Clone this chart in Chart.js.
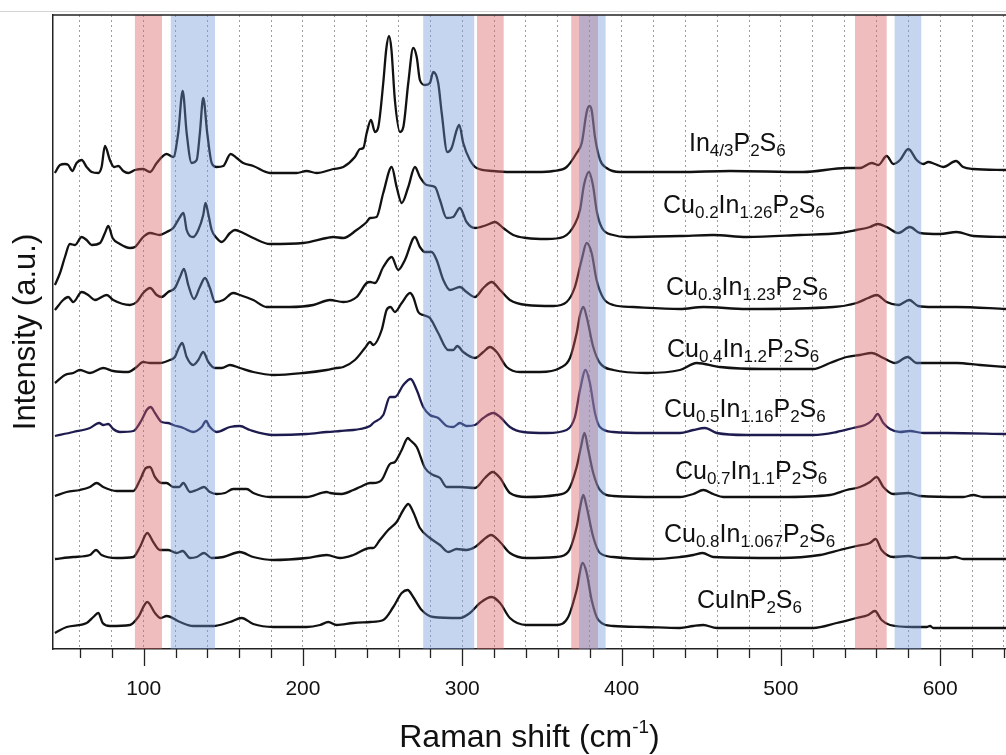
<!DOCTYPE html>
<html>
<head>
<meta charset="utf-8">
<title>Raman spectra of Cu(x)In(y)P2S6</title>
<script src="https://cdn.jsdelivr.net/npm/chart.js@4.4.1/dist/chart.umd.min.js"></script>
<style>
  html, body { margin: 0; padding: 0; background: #fff; }
  canvas { display: block; }
</style>
</head>
<body>
<canvas id="raman" width="1006" height="755"></canvas>
<script>
const FONT = "'Liberation Sans', Arial, Helvetica, sans-serif";

// --- spectra: [Raman shift (cm-1), stacked intensity (a.u.)] ---
const in43 = [[44.3,476],[47.5,484],[50.6,485],[52.7,484],[55.2,478],[57.9,486],[61.1,489],[64.2,482],[67.4,477],[71.5,476],[73.6,482],[75.7,503],[78.8,489],[81.4,482],[84.1,483],[87.2,478],[90.3,476],[94.5,479],[99.7,480],[104,477],[108.2,486],[114.4,495],[118.6,492],[121.7,516],[124.5,558],[127,516],[130.1,486],[133.3,489],[135.3,516],[137.4,551],[139.9,516],[142.7,486],[145.8,482],[150,483],[154.6,495],[158.4,491],[162.5,486],[168.8,483],[179.3,476],[196,476],[202.3,478],[208.6,476],[219,480],[225.3,482],[232.6,492],[235.8,500],[237.9,501],[240,516],[242.7,529],[245.2,517],[247.3,522],[250.4,566],[252.3,600],[254,613],[255.5,600],[257.7,549],[260.9,517],[263,522],[266.1,566],[269.2,601],[271.4,592],[273.4,569],[276.6,564],[279.7,566],[281.8,577],[284.9,566],[287.1,536],[290.6,497],[293.3,501],[296.5,519],[298.1,524],[300.6,506],[304.8,489],[309,481],[319.4,478],[330,477],[346.7,477],[357.1,478],[365.5,482],[371.8,496],[375,506],[378.1,537],[379.7,543],[381.2,539],[383.3,512],[386.5,489],[390.6,481],[399,477],[436.7,477],[468.1,478],[514,477],[541.3,481],[549.7,481],[557,486],[561.2,484],[566.4,493],[570.6,485],[574.8,489],[580,500],[585.2,489],[589.4,485],[592.5,487],[596.7,485],[601.9,482],[610,488],[614.4,482],[620.7,480],[641.3,479]];

const cu02 = [[44.3,364],[47.5,376],[50.6,392],[53.7,405],[56.9,404],[61.1,412],[64.2,409],[67.4,404],[72.6,406],[75.7,416],[77.8,423],[80.5,411],[85.1,405],[91.4,401],[94.5,402],[99.7,412],[104,416],[110.2,414],[114.4,417],[118.6,421],[121.7,429],[125,436],[127,419],[131.1,412],[134.3,419],[137.4,434],[138.8,446],[140.7,434],[142.7,419],[145.8,411],[149,407],[154.2,416],[157.3,419],[162.5,416],[168.8,411],[179.3,405],[200.2,406],[214.9,411],[219,412],[225.3,411],[233.7,419],[240,427],[242.1,431],[246.2,432],[250.4,456],[255.7,482],[258.8,462],[262,446],[266.1,462],[270.3,482],[273.4,472],[277.6,464],[282.9,462],[286,449],[290.2,431],[294.3,432],[298.5,441],[302.7,427],[308,421],[315.3,424],[320.5,427],[325.7,421],[332,414],[340.4,411],[353,410],[363.4,412],[370.7,425],[373.9,439],[376.4,464],[379.5,477],[382,464],[384.5,437],[387.7,421],[394.8,414],[403.2,412],[436.6,413],[457.5,414],[478.5,412],[512,414],[537.1,416],[547.5,419],[555.9,422],[560.7,425],[566.4,422],[573.7,416],[581,422],[587.3,416],[599.8,415],[610.3,417],[620.8,413],[641.3,412]];

const cu03 = [[44.3,339],[49.5,349],[52.7,352],[55.8,347],[61.1,357],[65.2,354],[69.4,349],[76.8,354],[80.9,349],[91.4,344],[95.6,347],[99.7,356],[104,361],[108.2,354],[111.3,352],[115.4,357],[119.6,361],[122.8,372],[125.3,380],[128,364],[131.6,350],[135.3,362],[138.5,371],[141.6,361],[144.8,347],[150,349],[156.2,356],[160.4,354],[168.8,349],[177.2,342],[191.8,342],[206.5,344],[216.9,349],[225.3,347],[233.7,352],[240,366],[242.1,367],[245.2,366],[250.4,382],[255.7,392],[259.8,379],[264,389],[270.3,412],[273.4,402],[276.6,397],[280.8,397],[283.9,389],[288.1,369],[292.3,359],[298.5,362],[302.7,357],[308,352],[313.2,361],[318.4,367],[323.7,359],[329.9,349],[340.4,344],[357.1,343],[365.5,347],[370.7,362],[374.9,389],[378.1,406],[381.2,396],[384.3,369],[388.5,351],[394.8,344],[407.3,342],[436.6,340],[451.3,342],[478.5,340],[532.9,342],[547.5,346],[554.8,351],[560.1,354],[566.4,347],[573.7,344],[580.6,349],[586.2,343],[595.6,342],[610.3,342],[641.3,340]];

const cu04 = [[44.3,266],[50.6,274],[55.8,276],[60,279],[66.3,276],[74.6,281],[80.9,278],[90.3,277],[95.6,282],[99.7,287],[104,286],[110.2,286],[116.5,289],[119.6,292],[122.3,302],[124.2,306],[127,292],[131.1,284],[134.3,289],[137.4,297],[140.6,287],[144.8,281],[149,281],[154.2,284],[160.4,281],[168.8,277],[181.4,274],[200.2,276],[214.9,279],[221.1,281],[225.3,282],[232.6,289],[238.9,301],[242.1,307],[244.1,304],[249.4,319],[252.5,339],[255,342],[257.7,337],[262,346],[267.2,356],[269.2,352],[272.4,337],[275.5,334],[279.7,331],[284.9,316],[291.2,299],[294.3,299],[296.9,303],[300.6,297],[308,291],[313.2,297],[317.4,302],[321.6,297],[327.9,282],[336.2,277],[348.8,277],[361.3,281],[367.6,291],[371.8,316],[373.9,334],[376,342],[378.1,332],[382.2,302],[386.4,286],[394.8,279],[415.7,276],[436.6,279],[447.1,286],[461.8,282],[488.9,280],[520.3,280],[530.8,286],[541.3,292],[549.6,294],[557,296],[564.3,291],[571.6,286],[579.6,292],[585.2,286],[595.6,286],[610.3,286],[625,284],[641.3,282]];

const cu05 = [[44.3,213],[55.8,217],[66.3,221],[72.1,226],[74.6,224],[77.8,225],[80.9,220],[85.1,217],[93.5,218],[98.7,229],[101.9,239],[104.4,242],[107.1,236],[111.3,227],[115.4,226],[118.6,224],[124.9,221],[131.1,217],[136.4,222],[139.1,228],[141.6,222],[145.8,217],[154.2,222],[160.4,223],[166.7,219],[181.4,214],[202.3,215],[214.9,217],[223.2,218],[231.6,219],[235.8,220],[242.1,223],[244.1,226],[250.4,234],[254.6,252],[257.7,252],[263,264],[267.6,270],[271.4,259],[275.5,242],[279.7,234],[284.9,231],[290.2,223],[294.3,222],[298.5,226],[302.7,223],[308,224],[313.2,231],[319.4,236],[323.7,232],[329.9,222],[338.3,217],[353,216],[365.5,219],[370.7,232],[373.9,259],[377.4,279],[380.1,266],[383.3,236],[386.4,222],[394.8,217],[415.7,216],[436.6,216],[445,219],[452.3,221],[459.7,216],[478.5,214],[520.3,214],[535,217],[545.4,221],[552.8,224],[557.6,229],[560.7,235],[564.3,226],[568.5,220],[574.7,217],[581,218],[589.4,216],[604,216],[641.3,215]];

const cu07 = [[44.3,153],[51.7,157],[60,159],[66.3,162],[70.5,166],[74.6,162],[83,158],[93.5,158],[97.7,169],[101.4,181],[104,182],[107.1,172],[111.3,166],[114.4,166],[118.6,162],[122.3,162],[124.9,166],[129.1,157],[133.3,159],[137.9,162],[141.6,157],[145.8,155],[151,156],[156.2,160],[164.7,160],[168.8,156],[179.3,152],[202.3,152],[214.9,157],[217,156],[224.3,155],[231.6,159],[235.8,162],[242.1,166],[244.1,166],[249.4,169],[254.6,185],[257.7,187],[262,199],[265.9,211],[267.2,209],[271.4,202],[276.6,181],[281.8,174],[286,171],[290.2,162],[298.5,162],[308,161],[314.2,171],[319.1,177],[323.7,171],[329.9,156],[340.4,152],[359.2,154],[366.5,159],[371.8,182],[374.5,202],[376.7,216],[379.1,199],[382.2,176],[386.4,159],[394.8,153],[424.1,152],[436.6,152],[445,155],[451.3,159],[457.5,155],[463.8,152],[499.4,152],[530.8,154],[541.3,159],[549.6,162],[555.9,167],[560.1,172],[564.3,162],[570.5,155],[579.9,156],[587.3,153],[614.5,152],[620.7,154],[627,152],[641.3,152]];

const cu08 = [[44.3,90],[55.8,92],[66.3,94],[70.1,99],[73.6,94],[83,91],[93.5,92],[97.7,102],[102.3,116],[106,107],[110.2,99],[115.4,99],[120.7,96],[124.5,98],[129.1,91],[133.3,92],[137.9,96],[142.7,91],[150,92],[160.4,97],[168.8,92],[181.4,89],[202.3,91],[214.9,94],[223.2,91],[231.6,94],[242.1,101],[244.1,101],[248.3,109],[253.5,119],[258.8,127],[263,139],[266.1,145],[269.2,137],[273.4,121],[279.7,111],[286,104],[291.2,97],[296.5,100],[302.7,99],[308,102],[313.2,109],[318,114],[323.7,107],[329.9,96],[340.4,91],[359.2,92],[366.5,97],[371.8,122],[374.5,146],[376,154],[378.1,142],[382.2,112],[386.4,96],[394.8,92],[419.9,90],[436.6,92],[445,94],[450.9,96],[457.5,92],[499.4,91],[524.5,94],[537.1,99],[547.5,103],[555.9,106],[559.5,110],[563.2,99],[570.5,92],[579.9,93],[587.3,91],[604,91],[609.3,92],[614.5,90],[641.3,90]];

const cuin = [[44.3,16],[51.7,22],[64.2,26],[68.4,32],[71.5,36],[74.3,26],[78.8,23],[91.4,24],[96.6,32],[102.3,47],[107.1,36],[110.7,31],[114.4,33],[122.8,27],[131.1,23],[143.7,23],[154.2,27],[161.5,31],[168.8,25],[181.4,22],[202.3,22],[210.7,24],[215.9,27],[221.1,24],[231.6,26],[242.1,27],[250.4,29],[256.7,42],[262,56],[265.7,59],[269.2,52],[274.5,39],[281.8,32],[298.5,31],[304.8,36],[311.1,46],[318.4,52],[323.7,46],[329.9,31],[340.4,24],[359.2,24],[366.5,32],[371.8,59],[375.6,86],[378.1,76],[381.2,49],[385.4,29],[394.8,23],[413.6,22],[436.6,21],[445,23],[451.3,24],[459.7,21],[520.3,21],[535,26],[547.5,31],[554.8,34],[559,38],[563.2,29],[568.5,24],[583.1,22],[591.5,22],[593.6,23],[595.7,21],[641.3,21]];

// sample names (top to bottom), subscripts written as _{...}
const sampleNames = [
  'In_{4/3}P_{2}S_{6}',
  'Cu_{0.2}In_{1.26}P_{2}S_{6}',
  'Cu_{0.3}In_{1.23}P_{2}S_{6}',
  'Cu_{0.4}In_{1.2}P_{2}S_{6}',
  'Cu_{0.5}In_{1.16}P_{2}S_{6}',
  'Cu_{0.7}In_{1.1}P_{2}S_{6}',
  'Cu_{0.8}In_{1.067}P_{2}S_{6}',
  'CuInP_{2}S_{6}'
];
const labelLevels = [498, 436, 354, 292, 232, 170, 107, 41];                    // baselines, intensity units
const labelStarts = [442.3, 426, 427.9, 428.5, 426.6, 433.5, 426.6, 447.3];     // left edges, cm-1

// highlighted mode regions (cm-1)
const redBands = [[94.5, 111.5], [309.2, 326], [368.4, 385.2], [546.5, 566.4]];
const blueBands = [[117, 144.8], [275.5, 307.5], [373.3, 390], [571.4, 588.1]];

const tickLabels = [100, 200, 300, 400, 500, 600];

const spectra = [in43, cu02, cu03, cu04, cu05, cu07, cu08, cuin];
const lineColors = ['#111', '#111', '#111', '#111', '#1e1c4e', '#111', '#111', '#111'];

// --- drawing helpers ---
function drawFormula(ctx, text, left, baseline) {
  const parts = text.split(/_\{([^}]*)\}/);
  const big = `25px ${FONT}`, small = `17px ${FONT}`;
  let xPos = left;
  parts.forEach((p, i) => {
    ctx.font = i % 2 ? small : big;
    ctx.fillText(p, xPos, baseline + (i % 2 ? 5 : 0));
    xPos += ctx.measureText(p).width;
  });
}

const ramanDecor = {
  id: 'ramanDecor',
  afterDatasetsDraw(chart) {
    // translucent bands go over the traces
    const {ctx, chartArea: a, scales: {x}} = chart;
    ctx.save();
    ctx.beginPath();
    ctx.rect(a.left, a.top, a.right - a.left, a.bottom - a.top);
    ctx.clip();
    const paint = (list, color) => list.forEach(([lo, hi]) => {
      const x0 = x.getPixelForValue(lo), x1 = x.getPixelForValue(hi);
      ctx.fillStyle = color;
      ctx.fillRect(x0, a.top, x1 - x0, a.bottom - a.top);
    });
    paint(redBands, 'rgba(215, 90, 90, 0.4)');
    paint(blueBands, 'rgba(110, 150, 215, 0.4)');
    ctx.restore();
  },
  afterDraw(chart) {
    const {ctx, chartArea: a, scales: {x, y}} = chart;
    ctx.save();

    // outer frame line and top border
    ctx.strokeStyle = '#d4d4d4';
    ctx.lineWidth = 1;
    ctx.beginPath(); ctx.moveTo(0, 11.5); ctx.lineTo(chart.width, 11.5); ctx.stroke();
    ctx.strokeStyle = '#222';
    ctx.lineWidth = 1.5;
    ctx.beginPath(); ctx.moveTo(a.left, a.top); ctx.lineTo(a.right, a.top); ctx.stroke();

    // outward tick marks, long at labelled values
    ctx.lineWidth = 1.3;
    x.ticks.forEach(t => {
      const px = Math.round(x.getPixelForValue(t.value)) + 0.5;
      const len = tickLabels.includes(t.value) ? 17 : 9;
      ctx.beginPath(); ctx.moveTo(px, a.bottom); ctx.lineTo(px, a.bottom + len); ctx.stroke();
    });

    // x axis title with superscript
    ctx.fillStyle = '#111';
    ctx.textBaseline = 'alphabetic';
    const main = 'Raman shift (cm', sup = '-1', close = ')';
    const bigF = `32px ${FONT}`, supF = `19px ${FONT}`;
    ctx.font = bigF; const w1 = ctx.measureText(main).width, w3 = ctx.measureText(close).width;
    ctx.font = supF; const w2 = ctx.measureText(sup).width;
    let tx = (a.left + a.right) / 2 - (w1 + w2 + w3) / 2;
    const ty = 747;
    ctx.font = bigF; ctx.fillText(main, tx, ty); tx += w1;
    ctx.font = supF; ctx.fillText(sup, tx, ty - 14); tx += w2;
    ctx.font = bigF; ctx.fillText(close, tx, ty);

    // sample labels
    sampleNames.forEach((name, i) =>
      drawFormula(ctx, name, x.getPixelForValue(labelStarts[i]), y.getPixelForValue(labelLevels[i])));
    ctx.restore();
  }
};

new Chart(document.getElementById('raman'), {
  type: 'line',
  data: {
    datasets: spectra.map((pts, i) => ({
      label: sampleNames[i],
      data: pts.map(([sx, iy]) => ({x: sx, y: iy})),
      borderColor: lineColors[i],
      borderWidth: 2.3,
      pointRadius: 0,
      fill: false,
      cubicInterpolationMode: 'monotone'
    }))
  },
  options: {
    responsive: false,
    animation: false,
    devicePixelRatio: 1,
    layout: {padding: {top: 15, left: 0, right: 0, bottom: 0}},
    plugins: {legend: {display: false}, tooltip: {enabled: false}},
    scales: {
      x: {
        type: 'linear',
        min: 43.1,
        max: 641.3,
        afterFit: s => { s.height = 106; s.paddingLeft = 0; s.paddingRight = 0; },
        ticks: {
          stepSize: 20,
          includeBounds: false,
          autoSkip: false,
          maxRotation: 0,
          padding: 28,
          color: '#111',
          font: {family: FONT, size: 21},
          callback: v => tickLabels.includes(v) ? String(v) : ''
        },
        grid: {color: 'rgba(0,0,0,0.38)', lineWidth: 1, drawTicks: false},
        border: {color: '#222', width: 1.5, dash: [2, 3]}
      },
      y: {
        min: 0,
        max: 634,
        afterFit: s => { s.width = 53; s.paddingTop = 0; s.paddingBottom = 0; },
        ticks: {display: false},
        grid: {display: false},
        border: {color: '#222', width: 1.5},
        title: {
          display: true,
          text: 'Intensity (a.u.)',
          color: '#111',
          font: {family: FONT, size: 31},
          padding: {top: 8, bottom: 0}
        }
      }
    }
  },
  plugins: [ramanDecor]
});
</script>
</body>
</html>
